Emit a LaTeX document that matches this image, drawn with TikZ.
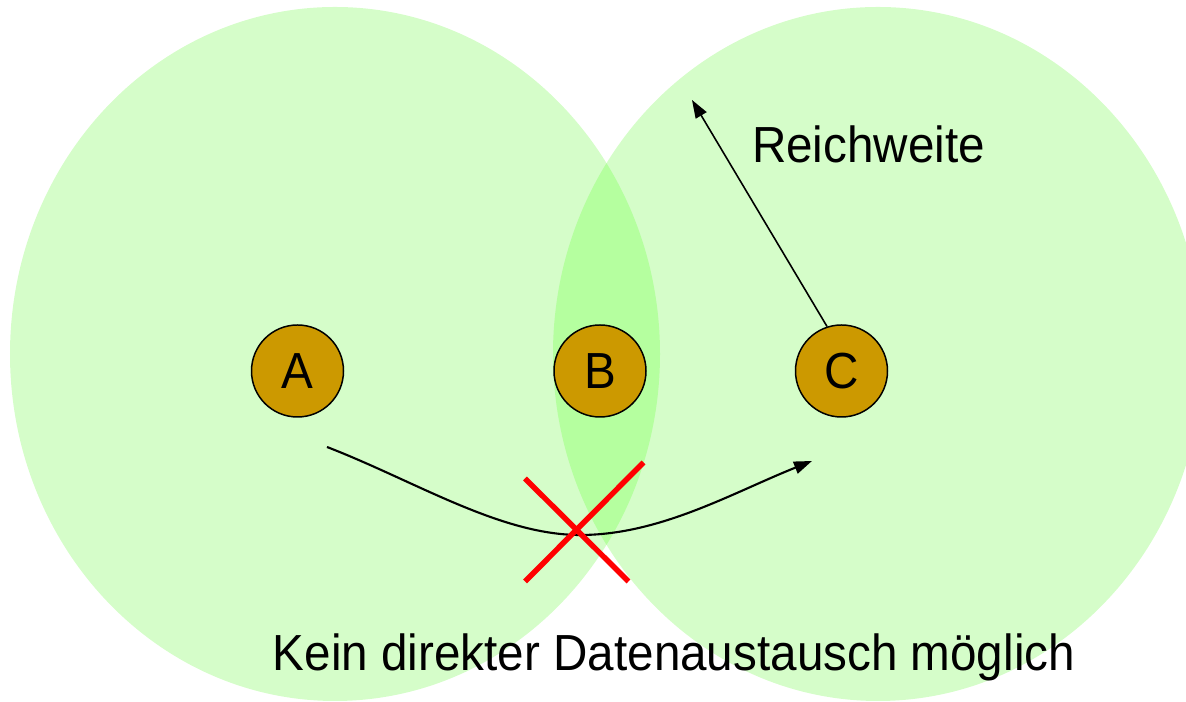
\documentclass[tikz,border=0pt]{standalone}
\usepackage{fontspec}
\setmainfont{Liberation Sans}
\usetikzlibrary{arrows.meta,positioning}
\definecolor{Range}{HTML}{D5FDC9}
\definecolor{Lens}{HTML}{B5FF9F}
\definecolor{Gold}{HTML}{CC9900}
\definecolor{Cross}{HTML}{FF0000}
\newcommand{\tallish}[1]{\scalebox{1}[1.065]{#1}}

\begin{document}
\begin{tikzpicture}[
      station/.style={circle,draw=black,line width=0.85pt,fill=Gold,minimum size=1.84cm,inner sep=0pt,
        font=\fontsize{27.1}{32}\selectfont},
      label/.style={font=\fontsize{27.1}{32}\selectfont,inner sep=0pt,anchor=base},
      hop/.style={-{Triangle[length=0.36cm,width=0.25cm]},line width=1.2pt},
      cross/.style={Cross,line width=3.1pt}]
      \useasboundingbox (0,0) rectangle (23.72,14.04);
      % ranges of A and C
      \fill[Range] (6.70,6.96) ellipse [x radius=6.50,y radius=6.94];
      \fill[Range] (17.56,6.96) ellipse [x radius=6.50,y radius=6.94];
      \begin{scope}
        \clip (6.70,6.96) ellipse [x radius=6.50,y radius=6.94];
        \fill[Lens] (17.56,6.96) ellipse [x radius=6.50,y radius=6.94];
      \end{scope}
      \node[station] (a) at (5.95,6.62) {\tallish{A}};
      \node[station] (b) at (12.00,6.62) {\tallish{B}};
      \node[station] (c) at (16.83,6.62) {\tallish{C}};
      \coordinate (reach) at (13.84,12.04);
      \draw[hop,line width=0.9pt] (c.108) -- (reach);
      \node[label] (rw) at (17.37,10.79) {\tallish{Reichweite}};
      % no direct A -> C
      \coordinate (from) at (6.54,5.10);
      \coordinate (low) at (11.60,3.34);
      \coordinate (to) at (16.24,4.82);
      \draw[hop] (from) .. controls (8.30,4.42) and (10.00,3.34) .. (low)
        .. controls (13.20,3.34) and (14.64,4.18) .. (to);
      \draw[cross] (10.50,4.47) -- (12.57,2.41);
      \draw[cross] (12.87,4.79) -- (10.50,2.41);
      \node[label] (note) at (13.48,0.63) {\tallish{Kein direkter Datenaustausch möglich}};
    \end{tikzpicture}
\end{document}
